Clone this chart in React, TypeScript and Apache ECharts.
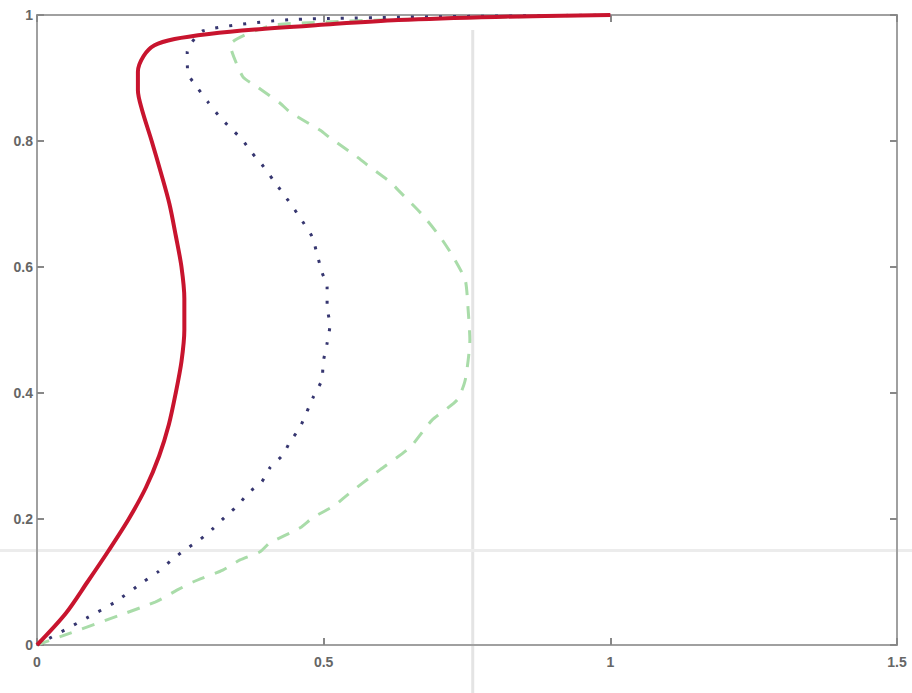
import React, { useEffect, useRef } from "react";
import * as echarts from "echarts";

// x ticks / y ticks
const xTicks = [0, 0.5, 1, 1.5];
const yTicks = [0, 0.2, 0.4, 0.6, 0.8, 1];

// Red solid curve [x, y]
const redCurve: number[][] = [
  [0, 0], [0.05, 0.05], [0.088, 0.1], [0.125, 0.15], [0.16, 0.2],
  [0.19, 0.25], [0.213, 0.3], [0.23, 0.35], [0.242, 0.4], [0.252, 0.45],
  [0.257, 0.5], [0.257, 0.55], [0.252, 0.6], [0.242, 0.65], [0.231, 0.7],
  [0.216, 0.75], [0.2, 0.8], [0.183, 0.85], [0.176, 0.88], [0.176, 0.91],
  [0.186, 0.935], [0.205, 0.952], [0.24, 0.962], [0.3, 0.97], [0.38, 0.977],
  [0.49, 0.984], [0.63, 0.992], [0.8, 0.997], [1.0, 1.0],
];

// Blue dotted curve
const blueCurve: number[][] = [
  [0, 0], [0.087, 0.043], [0.136, 0.068], [0.185, 0.1], [0.211, 0.116],
  [0.235, 0.135], [0.258, 0.151], [0.284, 0.167], [0.305, 0.183], [0.331, 0.206],
  [0.351, 0.222], [0.368, 0.241], [0.392, 0.259], [0.406, 0.281], [0.429, 0.302],
  [0.441, 0.322], [0.459, 0.346], [0.481, 0.392], [0.497, 0.421], [0.499, 0.448],
  [0.506, 0.479], [0.511, 0.508], [0.506, 0.537], [0.506, 0.568], [0.497, 0.592],
  [0.488, 0.622], [0.48, 0.648], [0.459, 0.678], [0.441, 0.702], [0.429, 0.717],
  [0.412, 0.738], [0.392, 0.763], [0.375, 0.781], [0.358, 0.802], [0.337, 0.821],
  [0.319, 0.838], [0.298, 0.862], [0.281, 0.883], [0.263, 0.908], [0.262, 0.941],
  [0.29, 0.975], [0.45, 0.993], [1.0, 1.0],
];

// Green dashed curve
const greenCurve: number[][] = [
  [0, 0], [0.206, 0.068], [0.244, 0.087], [0.272, 0.1], [0.324, 0.119],
  [0.354, 0.135], [0.389, 0.148], [0.406, 0.162], [0.459, 0.186], [0.481, 0.202],
  [0.52, 0.222], [0.541, 0.238], [0.598, 0.278], [0.651, 0.314], [0.689, 0.357],
  [0.733, 0.389], [0.747, 0.421], [0.755, 0.484], [0.752, 0.532], [0.747, 0.579],
  [0.726, 0.616], [0.703, 0.648], [0.672, 0.683], [0.63, 0.722], [0.616, 0.735],
  [0.576, 0.762], [0.558, 0.775], [0.511, 0.805], [0.494, 0.817], [0.441, 0.846],
  [0.424, 0.86], [0.384, 0.886], [0.359, 0.902], [0.337, 0.952], [0.42, 0.985],
  [1.0, 1.0],
];

// Light guide lines
const guideX = 0.76;
const guideY = 0.15;

const fmt = (v: number) => String(v);

export default function App() {
  const ref = useRef<HTMLDivElement>(null);
  useEffect(() => {
    if (!ref.current) return;
    const chart = echarts.init(ref.current, null, { renderer: "svg" });
    const axisLine = { show: true, onZero: false, lineStyle: { color: "#a0a0a0", width: 2 } };
    const tick = { show: true, inside: true, length: 7, lineStyle: { color: "#888", width: 2 } };
    const labelStyle = { color: "#666", fontSize: 14, fontFamily: "Liberation Sans, Arial, sans-serif", fontWeight: "bold" as const };
    chart.setOption({
      animation: false,
      backgroundColor: "#fff",
      grid: { left: 37, right: 15, top: 15, bottom: 48, containLabel: false },
      xAxis: [
        {
          type: "value", min: xTicks[0], max: xTicks[xTicks.length - 1], interval: 0.5,
          axisLine, axisTick: tick, splitLine: { show: false },
          axisLabel: { ...labelStyle, margin: 10, formatter: fmt },
        },
        {
          type: "value", position: "top", min: xTicks[0], max: xTicks[xTicks.length - 1], interval: 0.5,
          axisLine, axisTick: tick, splitLine: { show: false }, axisLabel: { show: false },
        },
      ],
      yAxis: [
        {
          type: "value", min: yTicks[0], max: yTicks[yTicks.length - 1], interval: 0.2,
          axisLine, axisTick: tick, splitLine: { show: false },
          axisLabel: { ...labelStyle, margin: 4, formatter: fmt },
        },
        {
          type: "value", position: "right", min: yTicks[0], max: yTicks[yTicks.length - 1], interval: 0.2,
          axisLine, axisTick: tick, splitLine: { show: false }, axisLabel: { show: false },
        },
      ],
      series: [
        {
          type: "line", data: greenCurve, showSymbol: false, smooth: 0.2, z: 2,
          lineStyle: { color: "#a9dca9", width: 3, type: [13, 11] },
        },
        {
          type: "line", data: blueCurve, showSymbol: false, smooth: 0.2, z: 3,
          lineStyle: { color: "#363670", width: 3, type: [3, 11] },
        },
        {
          type: "line", data: redCurve, showSymbol: false, smooth: 0.3, z: 4,
          lineStyle: { color: "#c8142e", width: 4 },
        },
      ],
    });
    const px = chart.convertToPixel({ xAxisIndex: 0 }, guideX) as number;
    const py = chart.convertToPixel({ yAxisIndex: 0 }, guideY) as number;
    const topPx = chart.convertToPixel({ yAxisIndex: 0 }, 1) as number;
    const w = chart.getWidth();
    const h = chart.getHeight();
    chart.setOption({
      graphic: [
        { type: "line", z: 0, silent: true, shape: { x1: px, y1: topPx + 15, x2: px, y2: h }, style: { stroke: "#e4e4e4", lineWidth: 3 } },
        { type: "line", z: 0, silent: true, shape: { x1: 0, y1: py, x2: w, y2: py }, style: { stroke: "#ececec", lineWidth: 3 } },
      ],
    });
    return () => chart.dispose();
  }, []);
  return (
    <div
      ref={ref}
      style={{ position: "fixed", left: 0, top: 0, width: 912, height: 693, background: "#fff" }}
    />
  );
}
